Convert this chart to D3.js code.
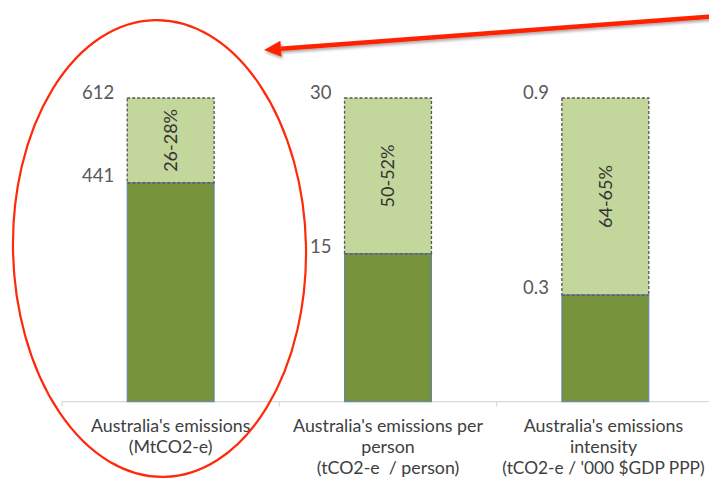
<!DOCTYPE html>
<html>
<head>
<meta charset="utf-8">
<script src="https://cdn.jsdelivr.net/npm/d3@7"></script>
<style>
  html, body { margin: 0; padding: 0; background: #fff; }
  svg { display: block; }
  text { font-family: Lato, "Open Sans", sans-serif; }
</style>
</head>
<body>
<script>
// ---- data ----
const categories = ["Australia's emissions", "Australia's emissions per person", "Australia's emissions intensity"];
const categoryLines = [
  ["Australia's emissions", "(MtCO2-e)"],
  ["Australia's emissions per", "person", "(tCO2-e  / person)"],
  ["Australia's emissions", "intensity", "(tCO2-e / '000 $GDP PPP)"]
];
const baselineValues = [612, 30, 0.9];      // full (dashed) bar
const currentValues = [441, 14.6, 0.316];   // solid bar
const reductionLabels = ["26-28%", "50-52%", "64-65%"];
const baselineLabels = ["612", "30", "0.9"];
const currentLabels = ["441", "15", "0.3"];

// ---- layout ----
const W = 709, H = 480;
const svg = d3.select("body").append("svg").attr("width", W).attr("height", H);

const defs = svg.append("defs");
const f = defs.append("filter").attr("id", "shadow").attr("x", "-10%").attr("y", "-50%").attr("width", "120%").attr("height", "300%");
f.append("feDropShadow").attr("dx", 1).attr("dy", 2).attr("stdDeviation", 1.5).attr("flood-color", "#000").attr("flood-opacity", 0.35);

const y0 = 401.7, yTop = 98;
const x = d3.scaleBand().domain(categories).range([62, 714]).paddingInner(0.6).paddingOuter(0.3);
const step = x.step();

// axis line & ticks
const axis = d3.axisBottom(x).tickSize(0).tickFormat("");
const ag = svg.append("g").attr("transform", `translate(0,${y0})`).call(axis);
ag.select(".domain").attr("stroke", "#d9d9d9").attr("stroke-width", 1.2).attr("d", `M62,0H714`);
const tickXs = d3.range(categories.length + 1).map(i => 62 + i * step);
svg.append("g").selectAll("line").data(tickXs).join("line")
  .attr("x1", d => d).attr("x2", d => d).attr("y1", y0).attr("y2", y0 + 5)
  .attr("stroke", "#d9d9d9").attr("stroke-width", 1.2);

categories.forEach((c, i) => {
  const yS = d3.scaleLinear().domain([0, baselineValues[i]]).range([y0, yTop]);
  const bx = x(c), bw = x.bandwidth();
  const g = svg.append("g");
  // light (dashed) segment
  g.append("rect")
    .attr("x", bx).attr("y", yS(baselineValues[i]))
    .attr("width", bw).attr("height", yS(currentValues[i]) - yS(baselineValues[i]))
    .attr("fill", "#c3d69b").attr("stroke", "#555").attr("stroke-width", 1.3)
    .attr("stroke-dasharray", "3,2");
  // solid segment
  g.append("rect")
    .attr("x", bx).attr("y", yS(currentValues[i]))
    .attr("width", bw).attr("height", y0 - yS(currentValues[i]))
    .attr("fill", "#77933c").attr("stroke", "#6183ad").attr("stroke-width", 1);
  // redraw dashed top line of dark segment
  g.append("line")
    .attr("x1", bx).attr("x2", bx + bw)
    .attr("y1", yS(currentValues[i])).attr("y2", yS(currentValues[i]))
    .attr("stroke", "#555").attr("stroke-width", 1.3).attr("stroke-dasharray", "3,2");
  // value labels
  g.append("text").attr("x", bx - 13).attr("y", yS(baselineValues[i]) + 1)
    .attr("text-anchor", "end").attr("font-size", 18.5).attr("fill", "#595959")
    .text(baselineLabels[i]);
  g.append("text").attr("x", bx - 13).attr("y", yS(currentValues[i]) - 1)
    .attr("text-anchor", "end").attr("font-size", 18.5).attr("fill", "#595959")
    .text(currentLabels[i]);
  // rotated reduction label
  const my = (yS(baselineValues[i]) + yS(currentValues[i])) / 2;
  g.append("text")
    .attr("transform", `translate(${bx + bw / 2},${my}) rotate(-90)`)
    .attr("text-anchor", "middle").attr("dy", "0.35em")
    .attr("font-size", 18).attr("fill", "#333")
    .text(reductionLabels[i]);
  // category labels
  const cx = Math.min(bx + bw / 2, 603.5);
  categoryLines[i].forEach((ln, j) => {
    const t = svg.append("text").attr("text-anchor", "middle").attr("font-size", 17.8).attr("fill", "#404040")
      .attr("x", cx).attr("y", 432 + j * 21).attr("xml:space", "preserve").text(ln);
    const len = t.node().getComputedTextLength();
    const maxLen = step - 15;
    if (len > maxLen) t.attr("textLength", maxLen).attr("lengthAdjust", "spacingAndGlyphs");
  });
});

// red ellipse highlight
svg.append("ellipse")
  .attr("cx", 159.5).attr("cy", 248.5).attr("rx", 146.5).attr("ry", 228.5)
  .attr("transform", "rotate(-1.2,159.5,248.5)")
  .attr("fill", "none").attr("stroke", "#ff2a0a").attr("stroke-width", 2.2);

// red arrow
const ag2 = svg.append("g").attr("filter", "url(#shadow)");
const tip = [264, 50], tail = [712, 16.5];
const ang = Math.atan2(tail[1] - tip[1], tail[0] - tip[0]);
const headLen = 17, headW = 8;
const bx2 = tip[0] + Math.cos(ang) * headLen, by2 = tip[1] + Math.sin(ang) * headLen;
ag2.append("line").attr("x1", tail[0]).attr("y1", tail[1]).attr("x2", bx2).attr("y2", by2)
  .attr("stroke", "#ff2200").attr("stroke-width", 4.5);
ag2.append("path")
  .attr("d", `M${tip[0]},${tip[1]}L${bx2 - Math.sin(ang) * headW},${by2 + Math.cos(ang) * headW}L${bx2 + Math.sin(ang) * headW},${by2 - Math.cos(ang) * headW}Z`)
  .attr("fill", "#ff2200");
</script>
</body>
</html>
